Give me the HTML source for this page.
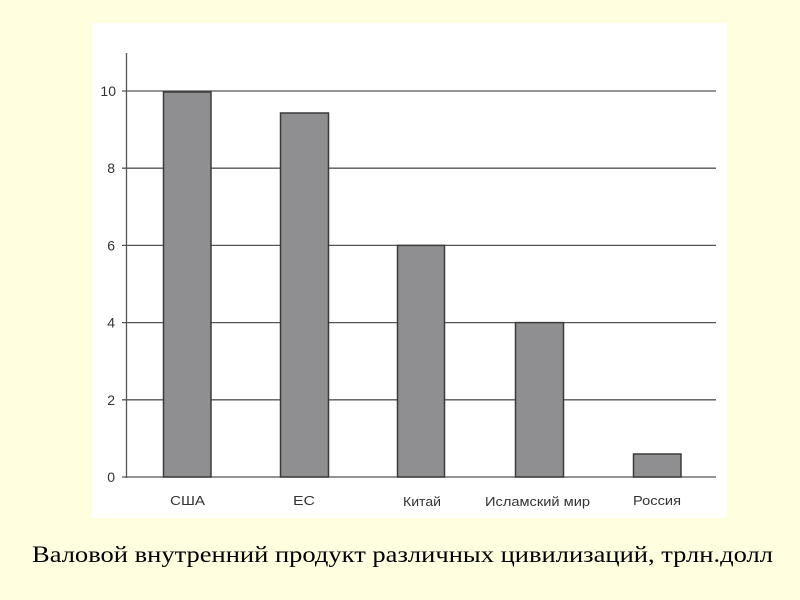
<!DOCTYPE html>
<html>
<head>
<meta charset="utf-8">
<style>
html,body{margin:0;padding:0;background:#FFFFE0;}
svg{display:block;}
</style>
</head>
<body>
<svg width="800" height="600" viewBox="0 0 800 600" xmlns="http://www.w3.org/2000/svg">
<rect x="0" y="0" width="800" height="600" fill="#FFFFE0"/>
<rect x="92" y="23" width="635" height="495" fill="#FFFFFF"/>
<g stroke="#555555" stroke-width="1.3">
<line x1="122" y1="91" x2="716" y2="91"/>
<line x1="122" y1="168.2" x2="716" y2="168.2"/>
<line x1="122" y1="245.4" x2="716" y2="245.4"/>
<line x1="122" y1="322.6" x2="716" y2="322.6"/>
<line x1="122" y1="399.8" x2="716" y2="399.8"/>
<line x1="122" y1="477" x2="716" y2="477"/>
<line x1="126.5" y1="53" x2="126.5" y2="478"/>
</g>
<g fill="#8F8F92" stroke="#3a3a3a" stroke-width="1.5">
<rect x="163.5" y="92" width="47.5" height="385"/>
<rect x="280.5" y="113" width="48" height="364"/>
<rect x="397.5" y="245.4" width="47" height="231.6"/>
<rect x="515.5" y="322.6" width="48" height="154.4"/>
<rect x="633.5" y="454" width="47.5" height="23"/>
</g>
<g font-family="Liberation Sans, Arial, sans-serif" font-size="14" fill="#333333" text-anchor="end">
<text x="116" y="96">10</text>
<text x="115" y="173.2">8</text>
<text x="115" y="250.4">6</text>
<text x="115" y="327.6">4</text>
<text x="115" y="404.8">2</text>
<text x="115" y="482">0</text>
</g>
<g font-family="Liberation Sans, Arial, sans-serif" font-size="13" fill="#333333">
<text x="170" y="505" textLength="35" lengthAdjust="spacingAndGlyphs">США</text>
<text x="293" y="505" textLength="22" lengthAdjust="spacingAndGlyphs">ЕС</text>
<text x="403" y="506" textLength="38" lengthAdjust="spacingAndGlyphs">Китай</text>
<text x="485" y="506" textLength="105" lengthAdjust="spacingAndGlyphs">Исламский мир</text>
<text x="633" y="505" textLength="48" lengthAdjust="spacingAndGlyphs">Россия</text>
</g>
<text x="32" y="562" font-family="Liberation Serif, Times New Roman, serif" font-size="23" fill="#000000" textLength="741" lengthAdjust="spacingAndGlyphs">Валовой внутренний продукт различных цивилизаций, трлн.долл</text>
</svg>
</body>
</html>
